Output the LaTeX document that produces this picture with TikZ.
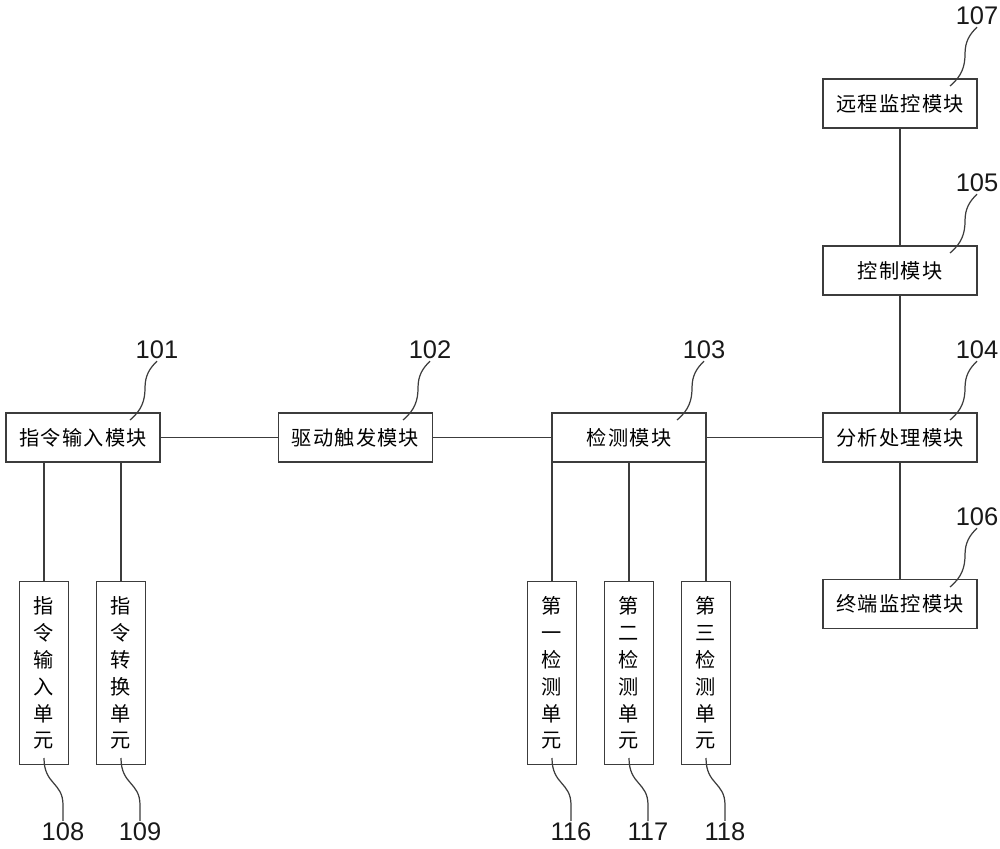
\documentclass[tikz,border=0pt]{standalone}
\usepackage{fontspec}
\setmainfont{Liberation Sans}
\newfontfamily\cjk{Noto Sans CJK SC}
\usetikzlibrary{positioning}
\definecolor{linegray}{RGB}{60,60,60}
\newcommand{\ks}{\kern0.7pt}
\tikzset{%
  modbox/.style={draw=linegray, line width=0.9pt, minimum width=3.08cm, minimum height=0.98cm, inner sep=0pt, font=\cjk\fontsize{11.5}{14}\selectfont},
  unitbox/.style={draw=linegray, line width=0.9pt, minimum width=0.98cm, minimum height=3.66cm, inner sep=0pt, align=center, font=\cjk\fontsize{11.5}{15.3}\selectfont},
  link/.style={draw=linegray, line width=0.9pt},
  leader/.style={draw=linegray, line width=0.7pt},
  numlabel/.style={font=\fontsize{14.5}{16}\selectfont, inner sep=1pt, text=black!90}
}

\begin{document}
\begin{tikzpicture}[x=0.02cm,y=-0.02cm]
\useasboundingbox (0,0) rectangle (1000,848);
% modules
\node[modbox] (m101) at (83,437.5) {指\ks{}令\ks{}输\ks{}入\ks{}模\ks{}块};
\node[modbox] (m102) at (355.5,437.5) {驱\ks{}动\ks{}触\ks{}发\ks{}模\ks{}块};
\node[modbox] (m103) at (629,437.5) {检\ks{}测\ks{}模\ks{}块};
\node[modbox] (m104) at (900,437.5) {分\ks{}析\ks{}处\ks{}理\ks{}模\ks{}块};
\node[modbox] (m105) at (900,270.5) {控\ks{}制\ks{}模\ks{}块};
\node[modbox] (m107) at (900,103.5) {远\ks{}程\ks{}监\ks{}控\ks{}模\ks{}块};
\node[modbox] (m106) at (900,604) {终\ks{}端\ks{}监\ks{}控\ks{}模\ks{}块};
% units
\node[unitbox] (u108) at (44,673) {指\\令\\输\\入\\单\\元};
\node[unitbox] (u109) at (121,673) {指\\令\\转\\换\\单\\元};
\node[unitbox] (u116) at (552,673) {第\\一\\检\\测\\单\\元};
\node[unitbox] (u117) at (629,673) {第\\二\\检\\测\\单\\元};
\node[unitbox] (u118) at (706,673) {第\\三\\检\\测\\单\\元};
% links
\draw[link] (m101) -- (m102);
\draw[link] (m102) -- (m103);
\draw[link] (m103) -- (m104);
\draw[link] (m104) -- (m105);
\draw[link] (m105) -- (m107);
\draw[link] (m104) -- (m106);
\draw[link] (u108.north |- m101.south) -- (u108.north);
\draw[link] (u109.north |- m101.south) -- (u109.north);
\draw[link] (u116.north |- m103.south) -- (u116.north);
\draw[link] (u117.north |- m103.south) -- (u117.north);
\draw[link] (u118.north |- m103.south) -- (u118.north);
% reference numbers
\foreach \sx/\sy/\n in {130/420/101, 403/420/102, 677/420/103, 950/420/104, 950/253/105, 950/86/107, 950/587/106}{
  \node[numlabel] (n\n) at (\sx+27,\sy-70) {\n};
  \draw[leader] (\sx,\sy) .. controls (\sx+12,\sy-10) and (\sx+15,\sy-20) .. (\sx+15,\sy-32)
    .. controls (\sx+15,\sy-45) and (\sx+20,\sy-52) .. (n\n.south);
}
\foreach \sx/\n in {44/108, 121/109, 552/116, 629/117, 706/118}{
  \node[numlabel] (n\n) at (\sx+19,832) {\n};
  \draw[leader] (\sx,758) .. controls (\sx,785) and (\sx+19,782) .. (\sx+19,805)
    -- (n\n.north);
}
\end{tikzpicture}
\end{document}
